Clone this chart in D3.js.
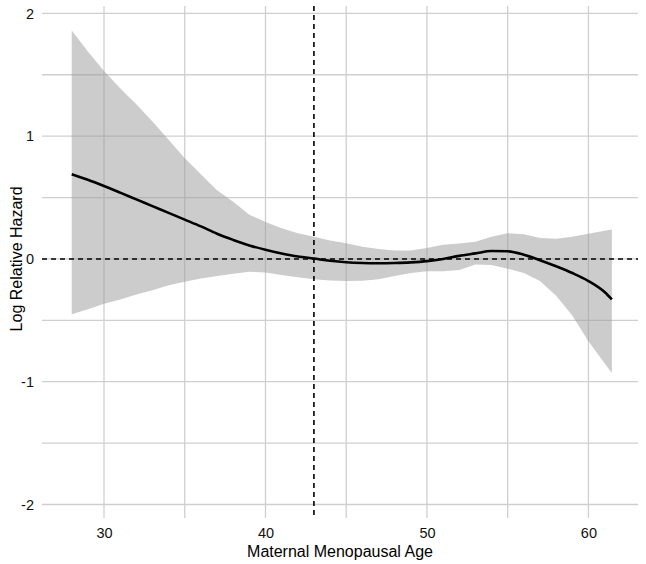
<!DOCTYPE html>
<html>
  <head>
    <meta charset="utf-8">
    <title></title>
    <script src="https://d3js.org/d3.v7.min.js"></script>
  </head>
  <style>
    body { margin: 0; background: #fff; }
    text { font-family: "Liberation Sans", Arial, sans-serif; }
  </style>
  <body>
  <svg width="646" height="564"></svg>
  <script>

  // spline fit
  var ages = [28, 29, 30, 31, 32, 33, 34, 35, 36, 37, 38, 39, 40, 41, 42, 43, 44, 45, 46, 47, 48,
              49, 50, 51, 52, 53, 54, 55, 56, 57, 58, 59, 60, 61, 61.45];
  var fit = [0.69, 0.645, 0.594, 0.54, 0.485, 0.43, 0.375, 0.32, 0.265, 0.205, 0.155, 0.11, 0.075,
             0.045, 0.02, 0.003, -0.015, -0.027, -0.033, -0.035, -0.033, -0.028, -0.018, 0.0, 0.025,
             0.045, 0.065, 0.062, 0.035, -0.01, -0.06, -0.115, -0.18, -0.27, -0.33];
  var upper = [1.86, 1.69, 1.53, 1.39, 1.26, 1.12, 0.97, 0.82, 0.69, 0.56, 0.465, 0.36, 0.30, 0.25,
               0.21, 0.18, 0.15, 0.128, 0.10, 0.08, 0.068, 0.068, 0.09, 0.115, 0.125, 0.14, 0.18,
               0.21, 0.20, 0.17, 0.165, 0.18, 0.205, 0.23, 0.24];
  var lower = [-0.45, -0.41, -0.366, -0.33, -0.29, -0.255, -0.215, -0.185, -0.16, -0.14, -0.12,
               -0.105, -0.11, -0.13, -0.15, -0.165, -0.175, -0.18, -0.178, -0.165, -0.14, -0.115,
               -0.10, -0.10, -0.09, -0.045, -0.05, -0.08, -0.115, -0.18, -0.30, -0.46, -0.67,
               -0.85, -0.93];

  var xTicks = [30, 40, 50, 60];
  var xMinor = [35, 45, 55];
  var yTicks = [-2, -1, 0, 1, 2];
  var yMinor = [-1.5, -0.5, 0.5, 1.5];
  var refAge = 43;
  var refHazard = 0;

  var data = ages.map(function(a, i) {
    return {x: a, y: fit[i], lo: lower[i], hi: upper[i]};
  });

  var svg = d3.select("svg"),
      pLeft = 42, pRight = 638, pTop = 6, pBottom = 518;

  var x = d3.scaleLinear().domain([26.16, 63.07]).range([pLeft, pRight]);
  var y = d3.scaleLinear().domain([-2.11, 2.06]).range([pBottom, pTop]);

  var grid = svg.append("g").attr("stroke", "#cfcfcf").attr("stroke-width", 1.3);

  grid.selectAll(".vx")
    .data(xTicks.concat(xMinor))
    .enter().append("line")
    .attr("x1", function(d) { return x(d); })
    .attr("x2", function(d) { return x(d); })
    .attr("y1", pTop).attr("y2", pBottom);

  grid.selectAll(".hy")
    .data(yTicks.concat(yMinor))
    .enter().append("line")
    .attr("y1", function(d) { return y(d); })
    .attr("y2", function(d) { return y(d); })
    .attr("x1", pLeft).attr("x2", pRight);

  // confidence band
  svg.append("path")
    .datum(data)
    .attr("fill", "#9a9a9a")
    .attr("fill-opacity", 0.5)
    .attr("d", d3.area()
      .x(function(d) { return x(d.x); })
      .y0(function(d) { return y(d.lo); })
      .y1(function(d) { return y(d.hi); }));

  // reference lines
  svg.append("line")
    .attr("x1", pLeft).attr("x2", pRight)
    .attr("y1", y(refHazard)).attr("y2", y(refHazard))
    .attr("stroke", "#000").attr("stroke-width", 1.6)
    .attr("stroke-dasharray", "5,4");

  svg.append("line")
    .attr("x1", x(refAge)).attr("x2", x(refAge))
    .attr("y1", pTop).attr("y2", pBottom)
    .attr("stroke", "#000").attr("stroke-width", 1.6)
    .attr("stroke-dasharray", "5,4");

  // fitted curve
  svg.append("path")
    .datum(data)
    .attr("fill", "none")
    .attr("stroke", "#000")
    .attr("stroke-width", 2.6)
    .attr("d", d3.line()
      .curve(d3.curveMonotoneX)
      .x(function(d) { return x(d.x); })
      .y(function(d) { return y(d.y); }));

  // axes (labels only, like ggplot minimal)
  var xAxis = svg.append("g")
    .attr("transform", "translate(0," + pBottom + ")")
    .call(d3.axisBottom(x).tickValues(xTicks).tickSize(0).tickPadding(10));
  var yAxis = svg.append("g")
    .attr("transform", "translate(" + pLeft + ",0)")
    .call(d3.axisLeft(y).tickValues(yTicks).tickFormat(String).tickSize(0).tickPadding(8));

  [xAxis, yAxis].forEach(function(a) {
    a.select(".domain").remove();
    a.selectAll("text").attr("fill", "#111").style("font-size", "14.5px");
  });

  svg.append("text")
    .attr("x", (pLeft + pRight) / 2)
    .attr("y", 557)
    .attr("text-anchor", "middle")
    .style("font-size", "16px")
    .text("Maternal Menopausal Age");

  svg.append("text")
    .attr("transform", "translate(22," + y(0) + ") rotate(-90)")
    .attr("text-anchor", "middle")
    .style("font-size", "16px")
    .text("Log Relative Hazard");

  </script>
  </body>
</html>
